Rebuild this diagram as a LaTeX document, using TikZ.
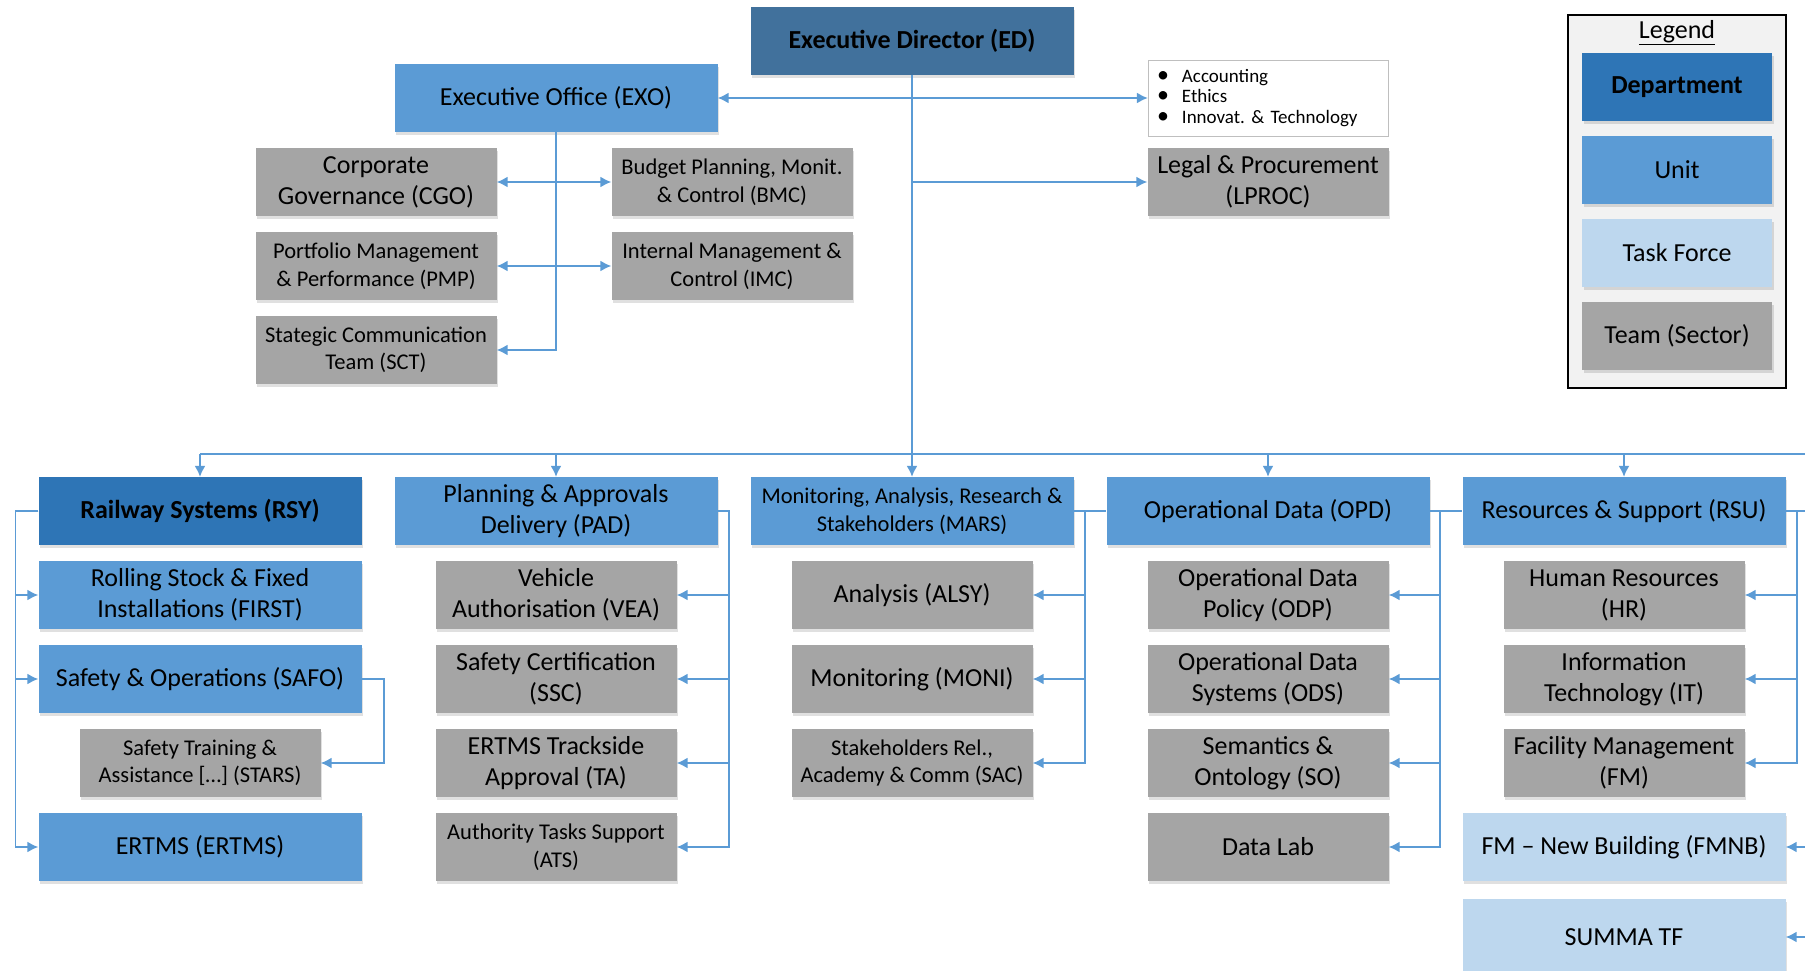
\documentclass[tikz,border=0pt]{standalone}
\usepackage{fontspec}
\setmainfont{Carlito}
\usetikzlibrary{arrows.meta, shadows}

\definecolor{edblue}{HTML}{41719C}
\definecolor{deptblue}{HTML}{2E75B6}
\definecolor{unitblue}{HTML}{5B9BD5}
\definecolor{tfblue}{HTML}{BDD7EE}
\definecolor{teamgray}{HTML}{A5A5A5}
\definecolor{framegray}{HTML}{F2F2F2}

\newcommand{\bigtext}{\fontsize{26}{31}\selectfont}
\newcommand{\smalltext}{\fontsize{22.5}{27.5}\selectfont}
\newcommand{\notetext}{\fontsize{19}{20.5}\selectfont}
\newcommand{\dotitem}{{\fontsize{24}{20.5}\selectfont\textbullet}\hspace{13pt}}

\tikzstyle{box} = [rectangle, minimum width=323pt, minimum height=68pt, inner sep=2pt, text centered, align=center, font=\bigtext, drop shadow={shadow xshift=1.5pt, shadow yshift=-3pt, fill=black, opacity=0.12}]
\tikzstyle{director} = [box, fill=edblue, font=\bigtext\bfseries]
\tikzstyle{department} = [box, fill=deptblue, font=\bigtext\bfseries]
\tikzstyle{unit} = [box, fill=unitblue]
\tikzstyle{taskforce} = [box, fill=tfblue]
\tikzstyle{team} = [box, fill=teamgray, minimum width=241pt]
\tikzstyle{compact} = [font=\smalltext]
\tikzstyle{notes} = [rectangle, draw=black!25, fill=white, minimum width=240pt, minimum height=68pt, text width=222pt, inner sep=9pt, align=left, font=\notetext]
\tikzstyle{link} = [draw=unitblue, line width=1.6pt]
\tikzstyle{edge} = [link, -{Latex[length=11pt, width=11pt]}]
\tikzstyle{twoway} = [link, {Latex[length=11pt, width=11pt]}-{Latex[length=11pt, width=11pt]}]

\begin{document}
\begin{tikzpicture}[x=1pt, y=1pt, node distance=84pt]
\useasboundingbox (0,0) rectangle (1805,-971);

% executive level
\node (ed) [director] at (912,-41) {Executive Director (ED)};
\node (exo) [unit] at (556,-98) {Executive Office (EXO)};
\node (cgo) [team] at (376,-182) {Corporate\\Governance (CGO)};
\node (pmp) [team, compact, below of=cgo] {Portfolio Management\\\& Performance (PMP)};
\node (sct) [team, compact, below of=pmp] {Stategic Communication\\Team (SCT)};
\node (bmc) [team, compact] at (732,-182) {Budget Planning, Monit.\\\& Control (BMC)};
\node (imc) [team, compact, below of=bmc] {Internal Management \&\\Control (IMC)};
\node (acc) [notes] at (1268,-98) {\dotitem Accounting\\\dotitem Ethics\\\dotitem Innovat.\ \& Technology};
\node (lproc) [team] at (1268,-182) {Legal \& Procurement\\(LPROC)};

% legend
\draw [draw=black, line width=1.2pt, fill=framegray] (1568,-15) rectangle (1786,-388);
\node (legend) [font=\bigtext] at (1677,-33) {\underline{Legend}};
\node (ldep) [department, minimum width=190pt] at (1677,-87) {Department};
\node (lunit) [unit, minimum width=190pt, node distance=83pt, below of=ldep] {Unit};
\node (ltf) [taskforce, minimum width=190pt, node distance=83pt, below of=lunit] {Task Force};
\node (lteam) [team, minimum width=190pt, node distance=83pt, below of=ltf] {Team (Sector)};

% departments and units
\coordinate (bus) at (0,-454);
\coordinate (rim) at (1805,0);

\node (rsy) [department] at (200,-511) {Railway Systems (RSY)};
\node (first) [unit, below of=rsy] {Rolling Stock \& Fixed\\Installations (FIRST)};
\node (safo) [unit, below of=first] {Safety \& Operations (SAFO)};
\node (stars) [team, compact, below of=safo] {Safety Training \&\\Assistance […] (STARS)};
\node (ertms) [unit, below of=stars] {ERTMS (ERTMS)};

\node (pad) [unit] at (556,-511) {Planning \& Approvals\\Delivery (PAD)};
\node (vea) [team, below of=pad] {Vehicle\\Authorisation (VEA)};
\node (ssc) [team, below of=vea] {Safety Certification\\(SSC)};
\node (ta) [team, below of=ssc] {ERTMS Trackside\\Approval (TA)};
\node (ats) [team, compact, below of=ta] {Authority Tasks Support\\(ATS)};

\node (mars) [unit, compact] at (912,-511) {Monitoring, Analysis, Research \&\\Stakeholders (MARS)};
\node (alsy) [team, below of=mars] {Analysis (ALSY)};
\node (moni) [team, below of=alsy] {Monitoring (MONI)};
\node (sac) [team, compact, below of=moni] {Stakeholders Rel.,\\Academy \& Comm (SAC)};

\node (opd) [unit] at (1268,-511) {Operational Data (OPD)};
\node (odp) [team, below of=opd] {Operational Data\\Policy (ODP)};
\node (ods) [team, below of=odp] {Operational Data\\Systems (ODS)};
\node (so) [team, below of=ods] {Semantics \&\\Ontology (SO)};
\node (lab) [team, below of=so] {Data Lab};

\node (rsu) [unit] at (1624,-511) {Resources \& Support (RSU)};
\node (hr) [team, below of=rsu] {Human Resources\\(HR)};
\node (it) [team, below of=hr] {Information\\Technology (IT)};
\node (fm) [team, below of=it] {Facility Management\\(FM)};
\node (fmnb) [taskforce, below of=fm] {FM -- New Building (FMNB)};
\node (summa) [taskforce, minimum height=76pt, node distance=90pt, below of=fmnb] {SUMMA TF};

% executive connectors
\draw [twoway] (exo.east) -- (acc.west);
\draw [edge] (ed.south |- lproc.west) -- (lproc.west);
\draw [twoway] (cgo.east) -- (bmc.west);
\draw [twoway] (pmp.east) -- (imc.west);
\draw [edge] (exo.south) |- (sct.east);
\draw [edge] (ed.south) -- (mars.north);

% bus to departments
\draw [link] (bus -| rsy.north) -- (bus -| rim);
\draw [edge] (bus -| rsy.north) -- (rsy.north);
\draw [edge] (bus -| pad.north) -- (pad.north);
\draw [edge] (bus -| opd.north) -- (opd.north);
\draw [edge] (bus -| rsu.north) -- (rsu.north);

% RSY
\draw [edge] (rsy.west) -- ++(-23,0) |- (first.west);
\draw [edge] (rsy.west) -- ++(-23,0) |- (safo.west);
\draw [edge] (rsy.west) -- ++(-23,0) |- (ertms.west);
\draw [edge] (safo.east) -- ++(22,0) |- (stars.east);

% PAD
\draw [edge] (pad.east) -- ++(11,0) |- (vea.east);
\draw [edge] (pad.east) -- ++(11,0) |- (ssc.east);
\draw [edge] (pad.east) -- ++(11,0) |- (ta.east);
\draw [edge] (pad.east) -- ++(11,0) |- (ats.east);

% MARS
\draw [link] (mars.east) -- (opd.west);
\draw [edge] (mars.east) -- ++(11,0) |- (alsy.east);
\draw [edge] (mars.east) -- ++(11,0) |- (moni.east);
\draw [edge] (mars.east) -- ++(11,0) |- (sac.east);

% OPD
\draw [link] (opd.east) -- (rsu.west);
\draw [edge] (opd.east) -- ++(10,0) |- (odp.east);
\draw [edge] (opd.east) -- ++(10,0) |- (ods.east);
\draw [edge] (opd.east) -- ++(10,0) |- (so.east);
\draw [edge] (opd.east) -- ++(10,0) |- (lab.east);

% RSU
\draw [link] (rsu.east) -- (rsu.east -| rim);
\draw [edge] (rsu.east) -- ++(11,0) |- (hr.east);
\draw [edge] (rsu.east) -- ++(11,0) |- (it.east);
\draw [edge] (rsu.east) -- ++(11,0) |- (fm.east);
\draw [edge] (fmnb.east -| rim) -- (fmnb.east);
\draw [edge] (summa.east -| rim) -- (summa.east);

\end{tikzpicture}
\end{document}
